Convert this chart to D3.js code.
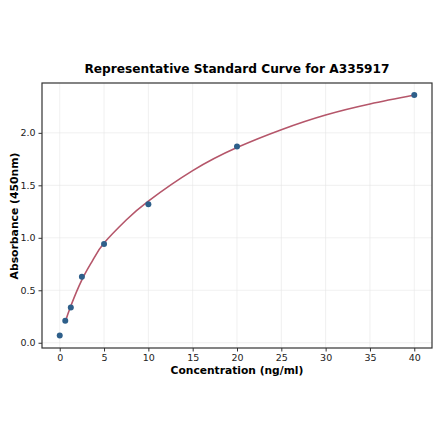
<!DOCTYPE html>
<html>
<head>
<meta charset="utf-8">
<script src="https://cdn.jsdelivr.net/npm/d3@7"></script>
<style>
  body { margin: 0; background: #fff; }
  text { font-family: "DejaVu Sans", sans-serif; }
</style>
</head>
<body>
<svg id="chart" width="440" height="441"></svg>
<script>
// standard points
const concentrations = [0, 0.625, 1.25, 2.5, 5, 10, 20, 40];
const absorbances = [0.068, 0.21, 0.335, 0.63, 0.94, 1.32, 1.87, 2.36];

// fitted curve
const curveX = [0.625, 1.25, 2.5, 3.75, 5, 7.5, 10, 15, 20, 25, 30, 35, 40];
const curveY = [0.20, 0.35, 0.60, 0.79, 0.95, 1.17, 1.35, 1.64, 1.86, 2.03, 2.17, 2.275, 2.36];

const xTicks = [0, 5, 10, 15, 20, 25, 30, 35, 40];
const yTicks = [0, 0.5, 1.0, 1.5, 2.0];

const svg = d3.select("#chart");
const margin = { top: 83, right: 8, bottom: 93, left: 42 };
const width = 440 - margin.left - margin.right;
const height = 441 - margin.top - margin.bottom;

const x = d3.scaleLinear().domain([-2, 42]).range([0, width]);
const y = d3.scaleLinear().domain([-0.05, 2.475]).range([height, 0]);

const g = svg.append("g").attr("transform", `translate(${margin.left},${margin.top})`);

// grid
g.selectAll(".gx").data(xTicks).enter().append("line")
  .attr("x1", d => x(d)).attr("x2", d => x(d))
  .attr("y1", 0).attr("y2", height)
  .attr("stroke", "#e6e6e6").attr("stroke-width", 0.6);
g.selectAll(".gy").data(yTicks).enter().append("line")
  .attr("y1", d => y(d)).attr("y2", d => y(d))
  .attr("x1", 0).attr("x2", width)
  .attr("stroke", "#e6e6e6").attr("stroke-width", 0.6);

// axes
const xAxis = g.append("g").attr("transform", `translate(0,${height})`)
  .call(d3.axisBottom(x).tickValues(xTicks).tickFormat(d3.format("d")).tickSize(3.5).tickPadding(3));
const yAxis = g.append("g")
  .call(d3.axisLeft(y).tickValues(yTicks).tickFormat(d3.format(".1f")).tickSize(3.5).tickPadding(3));
[xAxis, yAxis].forEach(a => {
  a.select(".domain").remove();
  a.selectAll("text").attr("font-size", 9.5).attr("fill", "#222").style("font-family", "DejaVu Sans");
  a.selectAll("line").attr("stroke", "#333");
});

// frame
g.append("rect").attr("width", width).attr("height", height)
  .attr("fill", "none").attr("stroke", "#333").attr("stroke-width", 1.2);

// curve
const line = d3.line()
  .x((d, i) => x(curveX[i]))
  .y(d => y(d))
  .curve(d3.curveNatural);
g.append("path").datum(curveY)
  .attr("d", line)
  .attr("fill", "none")
  .attr("stroke", "#b5566a")
  .attr("stroke-width", 1.6);

// points
g.selectAll(".pt").data(concentrations).enter().append("circle")
  .attr("cx", d => x(d))
  .attr("cy", (d, i) => y(absorbances[i]))
  .attr("r", 3)
  .attr("fill", "#2e5f8a");

// labels
svg.append("text").attr("x", 237).attr("y", 73)
  .attr("text-anchor", "middle").attr("font-size", 12.2).attr("font-weight", "bold")
  .text("Representative Standard Curve for A335917");
svg.append("text").attr("x", 237).attr("y", 374)
  .attr("text-anchor", "middle").attr("font-size", 10.7).attr("font-weight", "bold")
  .text("Concentration (ng/ml)");
svg.append("text").attr("transform", "translate(18,216) rotate(-90)")
  .attr("text-anchor", "middle").attr("font-size", 10.8).attr("font-weight", "bold")
  .text("Absorbance (450nm)");
</script>
</body>
</html>
